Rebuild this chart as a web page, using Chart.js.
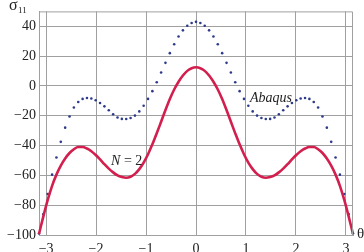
<!DOCTYPE html>
<html>
<head>
<meta charset="utf-8">
<script src="https://cdn.jsdelivr.net/npm/chart.js@4.4.0/dist/chart.umd.min.js"></script>
<style>
  html, body { margin: 0; padding: 0; background: #fff; }
</style>
</head>
<body>
<canvas id="chart" width="364" height="252"></canvas>
<script>
// angle in degrees, plotted in radians
const angles = [-180, -175, -170, -165, -160, -155, -150, -145, -140, -135, -130, -125,
    -120, -115, -110, -105, -100, -95, -90, -85, -80, -75, -70, -65, -60, -55, -50, -45,
    -40, -35, -30, -25, -20, -15, -10, -5, 0, 5, 10, 15, 20, 25, 30, 35, 40, 45, 50, 55,
    60, 65, 70, 75, 80, 85, 90, 95, 100, 105, 110, 115, 120, 125, 130, 135, 140, 145,
    150, 155, 160, 165, 170, 175, 180];

const abaqus = [-99, -86, -72.5, -59.5, -48, -37.5, -28, -20.5, -14.5, -10.8, -8.7, -8.1,
    -8.4, -9.6, -11.4, -13.7, -16.3, -19, -21.2, -22.1, -22.2, -21.5, -19.9, -17.1, -13.3,
    -8.7, -3.5, 2.5, 9, 15.5, 22, 28, 33.2, 37.3, 40.4, 42.2, 43, 42.2, 40.4, 37.3, 33.2,
    28, 22, 15.5, 9, 2.5, -3.5, -8.7, -13.3, -17.1, -19.9, -21.5, -22.2, -22.1, -21.2,
    -19, -16.3, -13.7, -11.4, -9.6, -8.4, -8.1, -8.7, -10.8, -14.5, -20.5, -28, -37.5,
    -48, -59.5, -72.5, -86, -99];

const seriesN2 = [-99.3, -87.5, -76.5, -67, -59.5, -53.5, -48.7, -45, -42.5, -41, -41,
    -42, -43.8, -46.3, -49.3, -52.5, -55.5, -58, -60, -61.1, -61.6, -60.9, -59, -55.8,
    -51.4, -45.8, -39.2, -31.8, -24, -16.2, -8.8, -2.4, 2.8, 7, 10.1, 11.9, 12.5, 11.9,
    10.1, 7, 2.8, -2.4, -8.8, -16.2, -24, -31.8, -39.2, -45.8, -51.4, -55.8, -59, -60.9,
    -61.6, -61.1, -60, -58, -55.5, -52.5, -49.3, -46.3, -43.8, -42, -41, -41, -42.5, -45,
    -48.7, -53.5, -59.5, -67, -76.5, -87.5, -99.3];

const xTicks = [-3, -2, -1, 0, 1, 2, 3];
const yTicks = [-100, -80, -60, -40, -20, 0, 20, 40];

const toPoints = vals => vals.map((v, i) => ({ x: angles[i] * Math.PI / 180, y: v }));
const minus = v => (v < 0 ? '\u2212' + Math.abs(v) : String(v));

const serif = '"Liberation Serif", "DejaVu Serif", serif';
const gridColor = '#a0a0a0';

// frame, axis symbols and curve labels
const decorations = {
    id: 'decorations',
    afterDraw(chart) {
        const { ctx, chartArea: a, scales: { x, y } } = chart;
        ctx.save();
        ctx.strokeStyle = gridColor;
        ctx.lineWidth = 1;
        ctx.beginPath();
        ctx.moveTo(a.left, a.top + 0.5);
        ctx.lineTo(a.right - 0.5, a.top + 0.5);
        ctx.lineTo(a.right - 0.5, a.bottom);
        ctx.stroke();

        ctx.fillStyle = '#222';
        ctx.textBaseline = 'alphabetic';
        ctx.font = '16px ' + serif;
        ctx.textAlign = 'left';
        ctx.fillText('σ', 9, 10);
        ctx.font = '9px ' + serif;
        ctx.fillText('11', 18, 13);
        ctx.font = '15px ' + serif;
        ctx.fillText('θ', 357, 238);

        ctx.font = 'italic 14px ' + serif;
        ctx.textAlign = 'center';
        ctx.textBaseline = 'middle';
        ctx.fillText('Abaqus', x.getPixelForValue(1.5), y.getPixelForValue(-8));

        const nx = x.getPixelForValue(-1.7), ny = y.getPixelForValue(-50.5);
        ctx.textAlign = 'left';
        ctx.font = 'italic 14px ' + serif;
        ctx.fillText('N', nx, ny);
        const w = ctx.measureText('N').width;
        ctx.font = '14px ' + serif;
        ctx.fillText(' = 2', nx + w, ny);
        ctx.restore();
    }
};

new Chart(document.getElementById('chart'), {
    type: 'scatter',
    data: {
        datasets: [
            {
                label: 'N = 2',
                data: toPoints(seriesN2),
                showLine: true,
                borderColor: '#d21f4d',
                borderWidth: 2.6,
                pointRadius: 0,
                cubicInterpolationMode: 'monotone',
                clip: false
            },
            {
                label: 'Abaqus',
                data: toPoints(abaqus),
                showLine: false,
                pointRadius: 1.3,
                pointBorderWidth: 0,
                backgroundColor: '#2d3a8c',
                clip: false
            }
        ]
    },
    options: {
        responsive: false,
        animation: false,
        layout: { padding: { left: 0, top: 8, right: 11, bottom: 0 } },
        plugins: {
            legend: { display: false },
            tooltip: { enabled: false }
        },
        scales: {
            x: {
                type: 'linear',
                min: -Math.PI,
                max: Math.PI,
                afterBuildTicks: axis => { axis.ticks = xTicks.map(v => ({ value: v })); },
                afterFit: axis => { axis.height = 17; },
                grid: { color: gridColor, drawTicks: false },
                border: { color: gridColor },
                ticks: {
                    padding: 6,
                    color: '#222',
                    font: { family: serif, size: 14 },
                    callback: v => minus(v)
                }
            },
            y: {
                min: -100,
                max: 50,
                afterBuildTicks: axis => { axis.ticks = yTicks.map(v => ({ value: v })); },
                afterFit: axis => { axis.width = 39; },
                grid: { color: gridColor, drawTicks: false },
                border: { color: gridColor },
                ticks: {
                    padding: 3,
                    color: '#222',
                    font: { family: serif, size: 14 },
                    callback: v => minus(v)
                }
            }
        }
    },
    plugins: [decorations]
});
</script>
</body>
</html>
